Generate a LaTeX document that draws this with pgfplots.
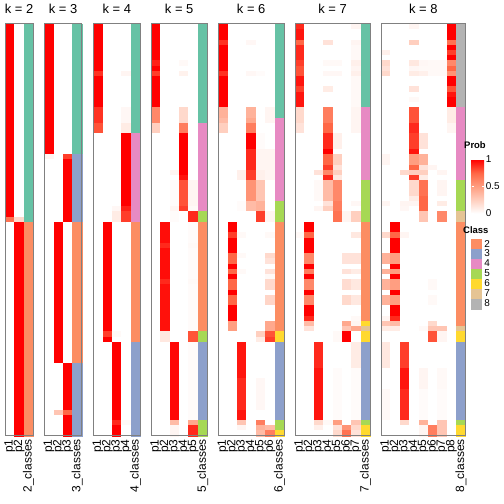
\documentclass[border=0pt]{standalone}
\usepackage{pgfplots}
\usepackage{pgfplotstable}
\pgfplotsset{compat=1.18}
\usepackage{fontspec}
\setmainfont{Liberation Sans}
\definecolor{c1}{HTML}{66C2A5}
\definecolor{c2}{HTML}{FC8D62}
\definecolor{c3}{HTML}{8DA0CB}
\definecolor{c4}{HTML}{E78AC3}
\definecolor{c5}{HTML}{A6D854}
\definecolor{c6}{HTML}{FFD92F}
\definecolor{c7}{HTML}{E5C494}
\definecolor{c8}{HTML}{B3B3B3}
\pgfdeclareplotmark{cell}{%
  \pgfpathrectangle{\pgfpoint{-4.7bp}{-\nrun*2.6055bp}}{\pgfpoint{9.4bp}{\nrun*5.211bp}}%
  \pgfusepathqfillstroke}
\pgfplotsset{
  /pgf/number format/assume math mode=true,
  colormap={wr}{rgb255(0cm)=(255,255,255); rgb255(1cm)=(255,207,191); rgb255(2cm)=(255,158,129); rgb255(3cm)=(255,103,70); rgb255(4cm)=(255,0,0)},
  hmaxis/.style={anchor=north west, scale only axis, height=411.67bp, ymin=-0.5, ymax=78.5, xmin=-0.5,
    point meta min=0, point meta max=1, colormap name=wr,
    axis line style={draw=none},
    extra description/.code={\draw[black!50, line width=1bp] (rel axis cs:0,0) rectangle (rel axis cs:1,1);},
    ytick=\empty, major tick length=0pt,
    xticklabel style={rotate=90, anchor=east, inner xsep=3.5bp, inner ysep=0pt, font=\fontsize{12}{12}\selectfont},
    title style={at={(0.5,1)}, anchor=base, yshift=5bp, font=\fontsize{13}{13}\selectfont}},
  hm/.style={forget plot, scatter, only marks, mark=cell,
    scatter/use mapped color={draw=mapped color, fill=mapped color},
    mark options={line width=0.2bp}, point meta=\thisrow{p#1},
    visualization depends on={\thisrow{n} \as \nrun}},
  hmc/.style={forget plot, scatter, only marks, mark=cell, point meta=explicit symbolic,
    mark options={line width=0.2bp},
    scatter/classes={1={draw=c1,fill=c1},2={draw=c2,fill=c2},3={draw=c3,fill=c3},4={draw=c4,fill=c4},
      5={draw=c5,fill=c5},6={draw=c6,fill=c6},7={draw=c7,fill=c7},8={draw=c8,fill=c8}},
    visualization depends on={\thisrow{n} \as \nrun}},
  sw/.style={legend image code/.code={\fill[#1] (0bp,-4.78bp) rectangle (9.7bp,4.78bp);}},
}
% r = first row, n = number of rows, p = probabilities, c = class
\pgfplotstableread{
r n p1 p2 c
0 37 1 0 1
37 1 0.7 0.2 1
38 41 0 1 2
}\tabB
\pgfplotstableread{
r n p1 p2 p3 c
0 25 1 0 0 1
25 1 0.05 0 0.85 3
26 12 0 0 1 3
38 27 0 1 0 2
65 9 0 0 1 3
74 1 0 0.3 0.75 3
75 4 0 0 1 3
}\tabC
\pgfplotstableread{
r n p1 p2 p3 p4 c
0 9 1 0 0 0 1
9 1 0.88 0 0 0.05 1
10 6 1 0 0 0 1
16 3 0.88 0 0 0.04 1
19 2 0.8 0 0 0.1 1
21 14 0 0 0 1 4
35 1 0 0 0.04 0.92 4
36 2 0 0 0.1 0.85 4
38 21 0 1 0 0 2
59 1 0 0.85 0.03 0 2
60 1 0 1 0 0 2
61 15 0 0 1 0 3
76 1 0 0 0.9 0.03 3
77 2 0 0 1 0 3
}\tabD
\pgfplotstableread{
r n p1 p2 p3 p4 p5 c
0 7 1 0 0 0 0 1
7 1 0.92 0 0 0.03 0 1
8 1 1 0 0 0 0 1
9 1 0.85 0 0 0.07 0 1
10 6 1 0 0 0 0 1
16 3 0.6 0 0 0.2 0 1
19 2 0.25 0 0 0.65 0 4
21 7 0 0 0 1 0 4
28 1 0 0 0.05 1 0 4
29 1 0 0 0 0.95 0 4
30 5 0 0 0.02 0.8 0.05 4
35 1 0 0 0.05 0.85 0.03 4
36 2 0 0 0.02 0 0.9 5
38 4 0 0.97 0 0 0.02 2
42 1 0 0.9 0 0 0.03 2
43 6 0 0.97 0 0 0.02 2
49 1 0 0.9 0 0 0.03 2
50 9 0 0.96 0 0 0.02 2
59 2 0 0.12 0 0 0.8 5
61 15 0 0 0.98 0 0.02 3
76 1 0 0 0.35 0 0.45 5
77 2 0 0 0.05 0 0.9 5
}\tabE
\pgfplotstableread{
r n p1 p2 p3 p4 p5 p6 c
0 3 1 0 0 0 0 0 1
3 1 0.88 0 0 0.04 0 0 1
4 5 1 0 0 0 0 0 1
9 1 0.88 0 0 0.04 0.02 0 1
10 6 1 0 0 0 0 0 1
16 2 0.4 0 0 0.4 0 0.05 1
18 1 0.35 0 0 0.45 0 0.05 4
19 2 0.25 0 0 0.65 0 0 4
21 3 0 0 0 1 0.02 0 4
24 4 0 0 0 0.9 0.05 0.05 4
28 2 0 0 0.08 0.85 0.08 0.05 4
30 4 0 0 0 0.55 0.3 0 4
34 2 0 0 0.02 0.35 0.4 0 5
36 2 0 0 0 0 0.85 0.05 5
38 2 0 1 0 0 0 0 2
40 1 0 0.85 0.03 0 0 0.03 2
41 3 0 1 0 0 0 0 2
44 1 0 0.75 0.03 0 0 0.2 2
45 1 0 0.75 0 0 0 0.15 2
46 1 0 1 0 0 0 0 2
47 1 0 0.75 0.03 0 0 0.15 2
48 1 0 1 0 0 0 0.03 2
49 2 0 0.75 0 0 0 0.2 2
51 1 0 1 0 0 0 0 2
52 2 0 0.75 0 0 0 0.22 2
54 3 0 1 0 0 0 0 2
57 2 0 0.5 0 0 0 0.45 2
59 1 0 0 0 0 0.25 0.8 6
60 1 0 0 0 0 0.1 0.85 6
61 7 0 0 0.95 0 0 0 3
68 6 0 0 0.9 0 0.04 0 3
74 2 0 0 0.95 0 0 0 3
76 1 0 0 0.3 0 0.65 0 5
77 1 0 0 0.05 0 0.4 0.35 5
78 1 0 0 0 0 0.35 0.65 6
}\tabF
\pgfplotstableread{
r n p1 p2 p3 p4 p5 p6 p7 c
0 1 0.9 0 0 0 0 0 0.05 1
1 2 0.95 0 0 0 0 0 0 1
3 1 0.75 0 0 0.15 0 0 0.05 1
4 3 0.9 0 0 0 0 0 0.03 1
7 1 0.85 0 0 0.03 0.03 0 0.08 1
8 1 0.8 0 0 0 0 0 0.05 1
9 1 0.8 0 0 0.04 0.04 0 0.08 1
10 2 0.95 0 0 0 0 0 0.03 1
12 1 0.85 0 0 0.1 0 0 0.03 1
13 3 0.95 0 0 0 0 0 0.03 1
16 3 0.2 0 0 0.65 0 0 0.05 4
19 2 0.15 0 0 0.75 0 0 0.05 4
21 3 0 0 0 0.9 0.08 0 0 4
24 1 0 0 0 1 0 0 0 4
25 2 0 0 0 0.75 0.25 0 0 4
27 1 0 0 0 0.85 0.15 0 0 4
28 1 0 0 0.15 0.6 0.25 0 0 4
29 1 0 0 0 0.9 0.12 0 0 4
30 4 0 0 0.03 0.35 0.6 0 0 5
34 1 0 0 0 0.15 0.65 0 0.04 5
35 1 0 0 0.05 0.25 0.65 0 0 5
36 2 0 0 0 0 0.7 0.05 0.25 5
38 2 0 1 0 0 0 0 0 2
40 1 0.03 0.75 0 0 0 0 0.12 2
41 3 0 1 0 0 0 0 0 2
44 2 0 0.6 0 0 0 0.15 0.15 2
46 1 0 1 0 0 0 0 0 2
47 1 0 0.65 0 0 0 0.15 0.1 2
48 1 0 1 0 0 0 0 0 2
49 2 0 0.6 0 0 0 0.18 0.12 2
51 1 0 1 0 0 0 0 0 2
52 2 0 0.6 0 0 0 0.2 0.12 2
54 2 0 1 0 0 0 0 0 2
56 1 0 0.9 0 0 0 0 0.03 2
57 1 0 0.35 0 0 0 0.45 0.05 6
58 1 0 0.15 0 0 0 0.3 0.45 7
59 2 0 0 0 0 0.03 1 0 6
61 5 0 0 0.9 0 0 0 0.1 3
66 10 0 0 0.95 0 0.02 0 0.02 3
76 1 0 0 0.2 0.03 0.5 0 0.3 5
77 1 0 0 0.08 0 0.15 0.55 0.2 6
78 1 0 0 0 0 0.2 0.7 0.15 6
}\tabG
\pgfplotstableread{
r n p1 p2 p3 p4 p5 p6 p7 p8 c
0 1 0 0 0 0.05 0 0 0 1 8
1 2 0 0 0 0 0 0 0 1 8
3 1 0 0 0 0.25 0 0 0 0.7 8
4 1 0 0 0 0 0 0 0 1 8
5 1 0.08 0 0 0 0 0 0 0.85 8
6 1 0 0 0 0 0 0 0 1 8
7 1 0.2 0 0 0.12 0.04 0.03 0.03 0.6 8
8 1 0.15 0 0 0.04 0.03 0.03 0.03 0.75 8
9 1 0.2 0 0 0.1 0.08 0.03 0.03 0.55 8
10 2 0 0 0 0 0 0 0 1 8
12 1 0 0 0 0.15 0 0 0 0.8 8
13 1 0 0 0 0 0 0 0 0.95 8
14 1 0 0 0 0.03 0 0 0 1 8
15 1 0 0 0 0 0 0 0 1 8
16 3 0 0 0 0.8 0 0 0 0.1 4
19 2 0 0 0 0.9 0 0 0 0.05 4
21 3 0 0 0 0.85 0.15 0 0 0 4
24 1 0 0 0 0.95 0 0 0 0 4
25 2 0.05 0 0 0.5 0.4 0 0 0 4
27 1 0 0 0 0.75 0.15 0.05 0 0 4
28 1 0 0 0.2 0.25 0.25 0 0.05 0 4
29 1 0 0 0 0.85 0.1 0 0 0 4
30 3 0 0 0 0.2 0.7 0 0.05 0 5
33 1 0 0 0 0.1 0.75 0 0 0 5
34 1 0.05 0 0.05 0.05 0.75 0 0.1 0 5
35 1 0 0 0.04 0 0.75 0 0 0 5
36 2 0 0 0 0 0.3 0 0.6 0 7
38 2 0 1 0 0 0 0 0 0 2
40 1 0.2 0.75 0.05 0 0 0 0 0 2
41 3 0 1 0 0 0 0 0 0 2
44 2 0.4 0.5 0 0 0 0 0 0 2
46 1 0 1 0 0 0 0 0 0 2
47 1 0.4 0.5 0 0 0 0 0 0 2
48 1 0 1 0 0 0 0 0 0 2
49 2 0.4 0.5 0 0 0 0.03 0 0 2
51 1 0 1 0 0 0 0 0 0 2
52 2 0.4 0.5 0 0 0 0.03 0 0 2
54 2 0 1 0 0 0 0 0 0 2
56 1 0.05 0.9 0 0 0 0 0 0 2
57 1 0.3 0.35 0 0 0 0.2 0 0 2
58 1 0.1 0.1 0 0 0.03 0.3 0.3 0 7
59 2 0 0 0 0 0 0.8 0.05 0 6
61 5 0.12 0 0.85 0 0 0 0 0 3
66 4 0 0 0.95 0 0.05 0 0.03 0 3
70 6 0.03 0 0.9 0 0.02 0 0.02 0 3
76 1 0 0 0.2 0 0.4 0 0.3 0 5
77 2 0 0 0 0 0.05 0.65 0.3 0 6
}\tabH
\begin{document}
\begin{tikzpicture}
\useasboundingbox (0,0) rectangle (504bp,504bp);
% k = 2
\begin{axis}[hmaxis, at={(5bp,480bp)}, width=28.2bp, xmax=2.5, xtick={0,1,2}, xticklabels={p1,p2,2\_classes}, title={k = 2}]
\pgfplotsinvokeforeach{1,2}{\addplot[hm=#1] table[x expr=#1-1, y expr=78-\thisrow{r}-(\thisrow{n}-1)/2] {\tabB};}
\addplot[hmc] table[x expr=2, y expr=78-\thisrow{r}-(\thisrow{n}-1)/2, meta=c] {\tabB};
\end{axis}
% k = 3
\begin{axis}[hmaxis, at={(44.3bp,480bp)}, width=37.6bp, xmax=3.5, xtick={0,...,3}, xticklabels={p1,p2,p3,3\_classes}, title={k = 3}]
\pgfplotsinvokeforeach{1,...,3}{\addplot[hm=#1] table[x expr=#1-1, y expr=78-\thisrow{r}-(\thisrow{n}-1)/2] {\tabC};}
\addplot[hmc] table[x expr=3, y expr=78-\thisrow{r}-(\thisrow{n}-1)/2, meta=c] {\tabC};
\end{axis}
% k = 4
\begin{axis}[hmaxis, at={(93.3bp,480bp)}, width=47bp, xmax=4.5, xtick={0,...,4}, xticklabels={p1,p2,p3,p4,4\_classes}, title={k = 4}]
\pgfplotsinvokeforeach{1,...,4}{\addplot[hm=#1] table[x expr=#1-1, y expr=78-\thisrow{r}-(\thisrow{n}-1)/2] {\tabD};}
\addplot[hmc] table[x expr=4, y expr=78-\thisrow{r}-(\thisrow{n}-1)/2, meta=c] {\tabD};
\end{axis}
% k = 5
\begin{axis}[hmaxis, at={(151bp,480bp)}, width=56.4bp, xmax=5.5, xtick={0,...,5}, xticklabels={p1,p2,p3,p4,p5,5\_classes}, title={k = 5}]
\pgfplotsinvokeforeach{1,...,5}{\addplot[hm=#1] table[x expr=#1-1, y expr=78-\thisrow{r}-(\thisrow{n}-1)/2] {\tabE};}
\addplot[hmc] table[x expr=5, y expr=78-\thisrow{r}-(\thisrow{n}-1)/2, meta=c] {\tabE};
\end{axis}
% k = 6
\begin{axis}[hmaxis, at={(218.3bp,480bp)}, width=65.8bp, xmax=6.5, xtick={0,...,6}, xticklabels={p1,p2,p3,p4,p5,p6,6\_classes}, title={k = 6}]
\pgfplotsinvokeforeach{1,...,6}{\addplot[hm=#1] table[x expr=#1-1, y expr=78-\thisrow{r}-(\thisrow{n}-1)/2] {\tabF};}
\addplot[hmc] table[x expr=6, y expr=78-\thisrow{r}-(\thisrow{n}-1)/2, meta=c] {\tabF};
\end{axis}
% k = 7
\begin{axis}[hmaxis, at={(295bp,480bp)}, width=75.2bp, xmax=7.5, xtick={0,...,7}, xticklabels={p1,p2,p3,p4,p5,p6,p7,7\_classes}, title={k = 7}]
\pgfplotsinvokeforeach{1,...,7}{\addplot[hm=#1] table[x expr=#1-1, y expr=78-\thisrow{r}-(\thisrow{n}-1)/2] {\tabG};}
\addplot[hmc] table[x expr=7, y expr=78-\thisrow{r}-(\thisrow{n}-1)/2, meta=c] {\tabG};
\end{axis}
% k = 8
\begin{axis}[hmaxis, at={(381bp,480bp)}, width=84.6bp, xmax=8.5, xtick={0,...,8}, xticklabels={p1,p2,p3,p4,p5,p6,p7,p8,8\_classes}, title={k = 8},
  colorbar,
  colorbar style={at={(parent axis.north east)}, anchor=north west, xshift=-2.6bp, yshift=-135.5bp,
    width=12.7bp, height=54bp, ytick={0,0.5,1}, yticklabels={0,0.5,1},
    yticklabel style={font=\fontsize{10}{10}\selectfont, inner sep=1.5bp},
    major tick length=2.5bp, ytick pos=both, yticklabel pos=right, tick align=inside,
    major tick style={white, line width=0.8bp}, axis line style={draw=none}},
  legend style={at={(1.0638,0.477)}, anchor=north west, draw=none, fill=none, inner sep=0pt, outer sep=0pt, row sep=0pt,
    nodes={inner sep=0pt, minimum height=9.56bp, font=\fontsize{10}{10}\selectfont},
    /tikz/every odd column/.append style={column sep=3.3bp}},
  legend cell align=left]
\pgfplotsinvokeforeach{1,...,8}{\addplot[hm=#1] table[x expr=#1-1, y expr=78-\thisrow{r}-(\thisrow{n}-1)/2] {\tabH};}
\addplot[hmc] table[x expr=8, y expr=78-\thisrow{r}-(\thisrow{n}-1)/2, meta=c] {\tabH};
\addlegendimage{sw=c2}\addlegendentry{2}
\addlegendimage{sw=c3}\addlegendentry{3}
\addlegendimage{sw=c4}\addlegendentry{4}
\addlegendimage{sw=c5}\addlegendentry{5}
\addlegendimage{sw=c6}\addlegendentry{6}
\addlegendimage{sw=c7}\addlegendentry{7}
\addlegendimage{sw=c8}\addlegendentry{8}
\end{axis}
\node[anchor=base west, inner sep=0pt, font=\bfseries\fontsize{9.5}{9.5}\selectfont] at (464bp,355bp) {Prob};
\node[anchor=base west, inner sep=0pt, font=\bfseries\fontsize{9.5}{9.5}\selectfont] at (463bp,270.7bp) {Class};
\end{tikzpicture}
\end{document}
